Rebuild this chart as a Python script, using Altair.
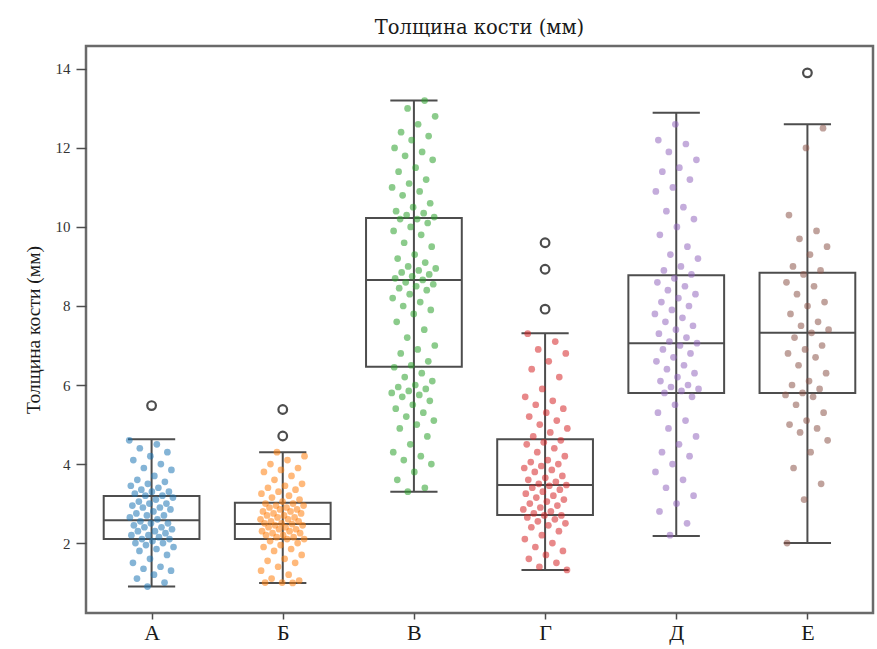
import altair as alt
import pandas as pd

# ---------------- data ----------------
groups = ["А", "Б", "В", "Г", "Д", "Е"]
colors = ["#1f77b4", "#ff7f0e", "#2ca02c", "#d62728", "#9467bd", "#8c564b"]

q1 = [2.10, 2.10, 6.46, 2.71, 5.80, 5.80]
median = [2.58, 2.48, 8.66, 3.47, 7.06, 7.32]
q3 = [3.19, 3.02, 10.23, 4.63, 8.78, 8.84]
whisker_low = [0.90, 0.99, 3.30, 1.32, 2.18, 2.00]
whisker_high = [4.63, 4.30, 13.20, 7.31, 12.89, 12.60]

outliers = {
    "А": [5.48],
    "Б": [5.38, 4.71],
    "В": [],
    "Г": [9.60, 8.93, 7.92],
    "Д": [],
    "Е": [13.90],
}

points = {
    "А": [4.6, 4.5, 4.4, 4.3, 4.2, 4.1, 4.0, 3.9, 3.85, 3.7, 3.6, 3.55, 3.5,
          3.45, 3.4, 3.35, 3.3, 3.3, 3.25, 3.2, 3.2, 3.15, 3.1, 3.05, 3.0, 3.0,
          2.95, 2.9, 2.9, 2.85, 2.8, 2.75, 2.7, 2.7, 2.65, 2.6, 2.55, 2.5, 2.5,
          2.45, 2.4, 2.4, 2.35, 2.3, 2.3, 2.25, 2.2, 2.2, 2.15, 2.1, 2.1, 2.05,
          2.0, 2.0, 1.95, 1.9, 1.85, 1.8, 1.7, 1.6, 1.5, 1.4, 1.35, 1.3, 1.2,
          1.1, 1.0, 0.9],
    "Б": [4.3, 4.2, 4.1, 4.0, 3.9, 3.85, 3.8, 3.7, 3.6, 3.5, 3.45, 3.4, 3.35,
          3.3, 3.25, 3.2, 3.15, 3.1, 3.05, 3.0, 3.0, 2.95, 2.95, 2.9, 2.9,
          2.85, 2.85, 2.8, 2.8, 2.75, 2.75, 2.7, 2.7, 2.65, 2.65, 2.6, 2.6,
          2.55, 2.55, 2.5, 2.5, 2.48, 2.45, 2.45, 2.4, 2.4, 2.35, 2.35, 2.3,
          2.3, 2.25, 2.25, 2.2, 2.2, 2.15, 2.15, 2.1, 2.1, 2.05, 2.0, 1.95,
          1.9, 1.85, 1.8, 1.7, 1.6, 1.55, 1.5, 1.4, 1.3, 1.2, 1.1, 1.05, 1.0,
          1.0, 0.99],
    "В": [13.2, 13.0, 12.8, 12.6, 12.4, 12.3, 12.2, 12.0, 11.9, 11.8, 11.7,
          11.5, 11.4, 11.2, 11.1, 11.0, 10.9, 10.8, 10.6, 10.5, 10.4, 10.35,
          10.3, 10.25, 10.2, 10.2, 10.1, 10.0, 9.9, 9.8, 9.6, 9.5, 9.3, 9.2,
          9.1, 9.0, 8.95, 8.9, 8.85, 8.8, 8.75, 8.7, 8.66, 8.6, 8.55, 8.5,
          8.45, 8.4, 8.3, 8.2, 8.1, 8.0, 7.9, 7.8, 7.6, 7.4, 7.2, 7.0, 6.9,
          6.8, 6.6, 6.5, 6.45, 6.3, 6.2, 6.1, 6.0, 5.95, 5.9, 5.85, 5.8, 5.75,
          5.7, 5.6, 5.5, 5.4, 5.3, 5.2, 5.1, 5.0, 4.9, 4.7, 4.5, 4.3, 4.2,
          4.1, 4.0, 3.8, 3.6, 3.4, 3.3],
    "Г": [7.3, 7.1, 6.9, 6.8, 6.6, 6.4, 6.2, 5.9, 5.7, 5.6, 5.5, 5.4, 5.3,
          5.2, 5.1, 5.0, 4.9, 4.8, 4.7, 4.6, 4.55, 4.5, 4.4, 4.3, 4.2, 4.1,
          4.05, 4.0, 3.95, 3.9, 3.85, 3.8, 3.7, 3.65, 3.6, 3.55, 3.5, 3.47,
          3.45, 3.4, 3.35, 3.3, 3.25, 3.2, 3.15, 3.1, 3.05, 3.0, 2.95, 2.9,
          2.85, 2.8, 2.75, 2.7, 2.7, 2.65, 2.6, 2.55, 2.5, 2.45, 2.4, 2.3,
          2.2, 2.1, 2.0, 1.9, 1.8, 1.7, 1.6, 1.5, 1.4, 1.32],
    "Д": [12.6, 12.2, 12.1, 11.9, 11.7, 11.5, 11.4, 11.2, 11.0, 10.9, 10.5,
          10.4, 10.2, 10.0, 9.8, 9.5, 9.3, 9.2, 9.0, 8.9, 8.8, 8.7, 8.6, 8.5,
          8.4, 8.3, 8.2, 8.1, 8.0, 7.9, 7.8, 7.7, 7.6, 7.5, 7.4, 7.3, 7.2,
          7.1, 7.06, 7.0, 6.9, 6.8, 6.7, 6.6, 6.5, 6.4, 6.3, 6.2, 6.1, 6.0,
          5.95, 5.9, 5.85, 5.8, 5.7, 5.5, 5.3, 5.1, 4.9, 4.7, 4.5, 4.3, 4.2,
          4.0, 3.8, 3.6, 3.4, 3.2, 3.0, 2.8, 2.5, 2.2],
    "Е": [12.5, 12.0, 10.3, 9.9, 9.7, 9.5, 9.3, 9.0, 8.9, 8.8, 8.6, 8.5, 8.3,
          8.1, 8.0, 7.8, 7.6, 7.5, 7.4, 7.32, 7.2, 7.0, 6.9, 6.8, 6.7, 6.5,
          6.3, 6.1, 6.0, 5.9, 5.8, 5.75, 5.7, 5.5, 5.3, 5.1, 5.0, 4.9, 4.8,
          4.6, 4.3, 3.9, 3.5, 3.1, 2.0],
}

title_text = "Толщина кости (мм)"
y_title = "Толщина кости (мм)"
y_ticks = [2, 4, 6, 8, 10, 12, 14]

# ---------------- tables ----------------
stats = pd.DataFrame({
    "idx": list(range(len(groups))),
    "group": groups,
    "q1": q1, "median": median, "q3": q3,
    "low": whisker_low, "high": whisker_high,
})

rows = []
for gi, g in enumerate(groups):
    for k, v in enumerate(points[g]):
        jit = ((k * 0.6180339887 + gi * 0.37) % 1.0) * 2 - 1
        rows.append({"idx": gi, "group": g, "value": v, "jit": jit})
pts = pd.DataFrame(rows)

orows = []
for gi, g in enumerate(groups):
    for v in outliers[g]:
        orows.append({"idx": gi, "group": g, "value": v})
outs = pd.DataFrame(orows)

FONT = "Liberation Serif"
GRAY = "#4d4d4d"

xscale = alt.Scale(domain=[-0.5, 5.5], nice=False, zero=False)
yscale = alt.Scale(domain=[0.23, 14.58], nice=False, zero=False)

label_expr = "[" + ",".join("'" + g + "'" for g in groups) + "][datum.value]"

x_axis = alt.Axis(values=list(range(len(groups))), labelExpr=label_expr, title=None,
                  grid=False, domain=False, tickSize=6, tickColor=GRAY, tickWidth=1.5,
                  labelFont=FONT, labelFontSize=22, labelColor="#1a1a1a",
                  labelPadding=3, labelAngle=0)
y_axis = alt.Axis(values=y_ticks, title=y_title, grid=False, domain=False,
                  tickSize=10, tickColor=GRAY, tickWidth=1.5, labelFont=FONT,
                  labelFontSize=15, labelColor="#333333", labelPadding=6,
                  titleFont=FONT, titleFontSize=19.5, titleFontWeight="normal",
                  titleColor="#1a1a1a", titlePadding=12)

base = alt.Chart(stats).transform_calculate(
    xl="datum.idx - 0.365", xr="datum.idx + 0.365",
    cl="datum.idx - 0.18", cr="datum.idx + 0.18",
)

whisker = base.mark_rule(color=GRAY, strokeWidth=2).encode(
    x=alt.X("idx:Q", scale=xscale, axis=x_axis),
    y=alt.Y("low:Q", scale=yscale, axis=y_axis),
    y2="high:Q",
)
cap_low = base.mark_rule(color=GRAY, strokeWidth=2).encode(
    x=alt.X("cl:Q", scale=xscale), x2="cr:Q", y=alt.Y("low:Q", scale=yscale))
cap_high = base.mark_rule(color=GRAY, strokeWidth=2).encode(
    x=alt.X("cl:Q", scale=xscale), x2="cr:Q", y=alt.Y("high:Q", scale=yscale))
box = base.mark_rect(fill="white", fillOpacity=0, stroke=GRAY, strokeWidth=2).encode(
    x=alt.X("xl:Q", scale=xscale), x2="xr:Q",
    y=alt.Y("q1:Q", scale=yscale), y2="q3:Q")
med = base.mark_rule(color=GRAY, strokeWidth=2).encode(
    x=alt.X("xl:Q", scale=xscale), x2="xr:Q", y=alt.Y("median:Q", scale=yscale))

dots = alt.Chart(pts).transform_calculate(
    xj="datum.idx + datum.jit * 0.17"
).mark_circle(size=45, opacity=0.55).encode(
    x=alt.X("xj:Q", scale=xscale),
    y=alt.Y("value:Q", scale=yscale),
    color=alt.Color("group:N", scale=alt.Scale(domain=groups, range=colors), legend=None),
)

outl = alt.Chart(outs).mark_point(shape="circle", filled=False, color=GRAY,
                                  size=75, strokeWidth=2.2, opacity=1).encode(
    x=alt.X("idx:Q", scale=xscale),
    y=alt.Y("value:Q", scale=yscale),
)

chart = alt.layer(box, whisker, cap_low, cap_high, med, dots, outl).properties(
    width=787, height=567,
    title=alt.TitleParams(title_text, font="DejaVu Serif", fontSize=19.5, fontWeight="normal",
                          color="#1a1a1a", anchor="middle", offset=8),
    padding={"left": 86, "top": 46, "right": 4, "bottom": 36},
    autosize="none",
    background="white",
).configure_view(stroke="#6a6a6a", strokeWidth=2.5)

chart.save("out.html", embed_options={"renderer": "svg", "actions": False})
